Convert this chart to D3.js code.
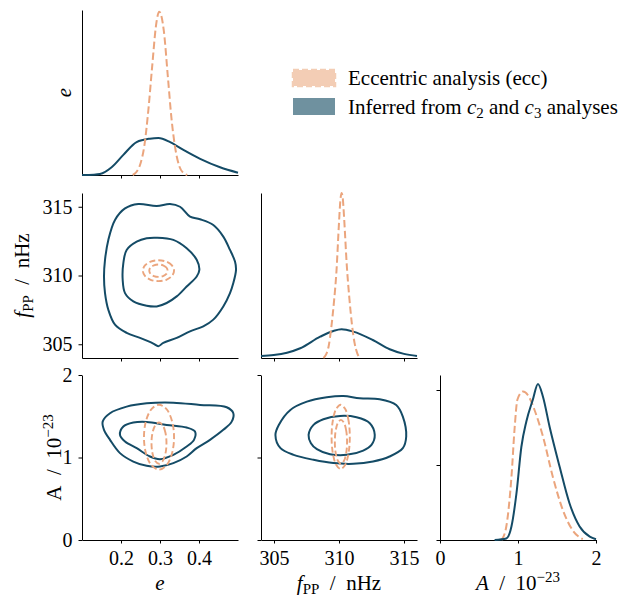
<!DOCTYPE html>
<html>
<head>
<meta charset="utf-8">
<script src="https://cdn.jsdelivr.net/npm/d3@7"></script>
<style>
body { margin: 0; background: #fff; }
svg { font-family: "Liberation Serif", "DejaVu Serif", serif; }
.axis path, .axis line { stroke: #000; stroke-width: 1; }
.axis text { font-size: 20px; fill: #000; font-family: "Liberation Serif", serif; }
.lbl { font-size: 21px; fill: #000; }
</style>
</head>
<body>
<svg id="chart" width="630" height="600"></svg>
<script>
// ranges and ticks
var eRange = [0.1, 0.5];
var fRange = [304, 316];
var aRange = [0, 2];
var eTicks = [0.2, 0.3, 0.4];
var fTicks = [305, 310, 315];
var aTicks = [0, 1, 2];
var aDensTicks = [0, 1, 2];

// 1-d marginals: [value, density]
var eMargEcc = [[0.23,0],[0.24,0.02],[0.25,0.07],[0.26,0.18],[0.27,0.39],[0.28,0.66],[0.29,0.91],[0.298,0.99],
    [0.31,0.87],[0.32,0.6],[0.33,0.33],[0.34,0.15],[0.35,0.05],[0.36,0.012],[0.37,0]];
var eMargInf = [[0.10,0],[0.13,0.002],[0.146,0.006],[0.176,0.047],[0.206,0.122],[0.24,0.199],[0.274,0.22],
    [0.296,0.224],[0.326,0.199],[0.36,0.152],[0.403,0.098],[0.454,0.047],[0.50,0.014]];
var fMargEcc = [[308.8,0],[309.0,0.02],[309.2,0.07],[309.4,0.18],[309.6,0.33],[309.8,0.52],[310.0,0.82],[310.1,0.95],
    [310.2,1.0],[310.3,0.96],[310.4,0.84],[310.6,0.56],[310.8,0.36],[311.0,0.2],[311.2,0.09],[311.4,0.03],[311.6,0]];
var fMargInf = [[304.0,0.012],[304.98,0.018],[306.0,0.032],[307.02,0.059],[308.55,0.129],[309.57,0.164],[310.2,0.174],
    [311.1,0.16],[312.6,0.109],[313.9,0.053],[315.0,0.025],[316.0,0.012]];
var aMargEcc = [[0.79,0],[0.85,0.18],[0.916,0.84],[0.958,1.51],[0.992,1.87],[1.064,1.98],[1.128,1.93],[1.213,1.73],
    [1.32,1.38],[1.447,0.84],[1.575,0.40],[1.70,0.13],[1.83,0.01]];
var aMargInf = [[0.70,0],[0.85,0.02],[0.916,0.18],[0.98,0.62],[1.043,1.24],[1.107,1.58],[1.19,1.87],[1.256,2.08],
    [1.32,1.91],[1.405,1.51],[1.533,0.98],[1.66,0.49],[1.79,0.18],[1.92,0.044],[2.0,0.01]];

// 2-d contours: e vs f
var efInfOuter = [[0.2444,315.2],[0.2915,315.05],[0.3256,315.2],[0.3513,315.0],[0.377,314.28],[0.4026,314.09],
    [0.4367,313.67],[0.4623,312.83],[0.4795,311.86],[0.4923,311.01],[0.4949,310.41],[0.488,309.45],[0.4795,308.72],
    [0.4623,307.75],[0.4367,306.79],[0.411,306.3],[0.377,305.94],[0.3428,305.46],[0.3085,305.1],[0.2957,304.86],
    [0.2829,305.05],[0.2487,305.46],[0.2145,305.83],[0.1846,306.43],[0.1675,307.51],[0.159,308.72],[0.1564,309.93],
    [0.159,311.14],[0.1675,312.59],[0.1846,314.04],[0.2103,314.88]];
var efInfInner = [[0.2915,312.75],[0.3342,312.59],[0.3684,311.98],[0.3941,311.14],[0.4009,310.41],[0.3941,309.93],
    [0.3684,309.2],[0.3428,308.48],[0.3171,308.0],[0.2915,307.75],[0.2658,307.8],[0.2316,308.12],[0.2103,308.72],
    [0.2043,309.69],[0.206,310.9],[0.2145,311.86],[0.2402,312.46],[0.2658,312.71]];
var efEccOuter = [[0.336,310.35],[0.3306,310.73],[0.316,311.01],[0.296,311.11],[0.276,311.01],[0.2614,310.73],
    [0.256,310.35],[0.2614,309.97],[0.276,309.69],[0.296,309.59],[0.316,309.69],[0.3306,309.97]];
var efEccInner = [[0.3195,310.35],[0.3164,310.58],[0.3078,310.74],[0.296,310.8],[0.2843,310.74],[0.2756,310.58],
    [0.2725,310.35],[0.2756,310.12],[0.2843,309.96],[0.296,309.9],[0.3078,309.96],[0.3164,310.12]];

// e vs A
var eaInfOuter = [[0.153,1.435],[0.1718,1.537],[0.2145,1.617],[0.2658,1.657],[0.3342,1.665],[0.4026,1.637],
    [0.471,1.609],[0.488,1.537],[0.4838,1.435],[0.4623,1.335],[0.4282,1.214],[0.3941,1.113],[0.3684,1.012],
    [0.3342,0.932],[0.3,0.891],[0.2658,0.899],[0.2316,0.951],[0.1974,1.053],[0.1718,1.214],[0.1564,1.335]];
var eaInfInner = [[0.1974,1.274],[0.206,1.375],[0.2316,1.423],[0.2658,1.431],[0.3171,1.395],[0.3684,1.363],
    [0.3897,1.314],[0.3872,1.214],[0.3684,1.133],[0.3342,1.032],[0.3,0.98],[0.2744,1.012],[0.2402,1.113],[0.2103,1.193]];
var eaEccOuter = [[0.336,1.246],[0.3307,1.443],[0.3167,1.586],[0.2974,1.639],[0.2782,1.586],[0.2641,1.443],
    [0.2589,1.246],[0.2641,1.049],[0.2782,0.906],[0.2974,0.853],[0.3167,0.906],[0.3307,1.049]];
var eaEccInner = [[0.3166,1.174],[0.314,1.299],[0.307,1.39],[0.2974,1.424],[0.2878,1.39],[0.2808,1.299],
    [0.2782,1.174],[0.2808,1.049],[0.2878,0.958],[0.2974,0.924],[0.307,0.958],[0.314,1.049]];

// f vs A
var faInfOuter = [[305.11,1.274],[305.37,1.395],[306.26,1.577],[307.53,1.677],[309.06,1.73],[310.33,1.746],
    [311.6,1.718],[313.13,1.706],[314.4,1.637],[314.91,1.496],[315.17,1.254],[314.91,1.113],[313.89,1.012],
    [312.62,0.951],[311.09,0.923],[309.57,0.932],[308.04,0.972],[306.51,1.032],[305.5,1.113]];
var faInfInner = [[307.66,1.274],[308.04,1.395],[308.8,1.464],[310.08,1.504],[311.35,1.488],[312.37,1.416],
    [312.75,1.274],[312.5,1.153],[311.86,1.084],[310.59,1.032],[309.31,1.04],[308.3,1.101],[307.84,1.174]];
var faEccOuter = [[310.83,1.25],[310.736,1.445],[310.48,1.587],[310.13,1.639],[309.78,1.587],[309.524,1.445],
    [309.43,1.25],[309.524,1.055],[309.78,0.913],[310.13,0.861],[310.48,0.913],[310.736,1.055]];
var faEccInner = [[310.62,1.19],[310.557,1.323],[310.385,1.42],[310.15,1.456],[309.915,1.42],[309.743,1.323],
    [309.68,1.19],[309.743,1.057],[309.915,0.96],[310.15,0.924],[310.385,0.96],[310.557,1.057]];

var legendItems = ['Eccentric analysis (ecc)', 'Inferred from c2 and c3 analyses'];

var blue = '#144b66';
var orange = '#eba57d';

var svg = d3.select('#chart');
var colX = [82, 261, 440];
var rowY = [10, 193, 375];
var W = 156, H = 165;

var xE = d3.scaleLinear().domain(eRange).range([colX[0], colX[0] + W]);
var xF = d3.scaleLinear().domain(fRange).range([colX[1], colX[1] + W]);
var xA = d3.scaleLinear().domain(aRange).range([colX[2], colX[2] + W]);
var yF = d3.scaleLinear().domain(fRange).range([rowY[1] + H, rowY[1]]);
var yA = d3.scaleLinear().domain(aRange).range([rowY[2] + H, rowY[2]]);
var yEd = d3.scaleLinear().domain([0, 1]).range([rowY[0] + H, rowY[0]]);
var yFd = d3.scaleLinear().domain([0, 1]).range([rowY[1] + H, rowY[1]]);
var yAd = d3.scaleLinear().domain([0, 2.2]).range([rowY[2] + H, rowY[2]]);

function bottomAxis(scale, ticks, y, labels) {
    var g = svg.append('g').attr('class', 'axis')
        .attr('transform', 'translate(0,' + y + ')')
        .call(d3.axisBottom(scale).tickValues(ticks).tickSize(3.5).tickSizeOuter(0).tickPadding(7)
            .tickFormat(d3.format('')));
    if (!labels) g.selectAll('.tick text').remove();
    return g;
}

function leftAxis(scale, ticks, x, labels) {
    var g = svg.append('g').attr('class', 'axis')
        .attr('transform', 'translate(' + x + ',0)')
        .call(d3.axisLeft(scale).tickValues(ticks).tickSize(3.5).tickSizeOuter(0).tickPadding(6)
            .tickFormat(d3.format('')));
    if (!labels) g.selectAll('.tick text').remove();
    return g;
}

// axes, panel by panel
bottomAxis(xE, eTicks, rowY[0] + H, false);
leftAxis(yEd, [], colX[0], false);
bottomAxis(xE, eTicks, rowY[1] + H, false);
leftAxis(yF, fTicks, colX[0], true);
bottomAxis(xF, fTicks, rowY[1] + H, false);
leftAxis(yFd, [], colX[1], false);
bottomAxis(xE, eTicks, rowY[2] + H, true);
leftAxis(yA, aTicks, colX[0], true);
bottomAxis(xF, fTicks, rowY[2] + H, true);
leftAxis(yA, aTicks, colX[1], false);
bottomAxis(xA, aTicks, rowY[2] + H, true);
leftAxis(yAd, aDensTicks, colX[2], false);

function marginal(data, xs, ys, color, dashed) {
    var line = d3.line().x(function (d) { return xs(d[0]); }).y(function (d) { return ys(d[1]); })
        .curve(d3.curveMonotoneX);
    svg.append('path').datum(data).attr('d', line)
        .attr('fill', 'none').attr('stroke', color).attr('stroke-width', 2)
        .attr('stroke-dasharray', dashed ? '7.4,3.4' : null);
}

function contour(data, xs, ys, color, dashed) {
    var line = d3.line().x(function (d) { return xs(d[0]); }).y(function (d) { return ys(d[1]); })
        .curve(d3.curveCatmullRomClosed.alpha(0.5));
    svg.append('path').datum(data).attr('d', line)
        .attr('fill', 'none').attr('stroke', color).attr('stroke-width', dashed ? 1.9 : 2)
        .attr('stroke-dasharray', dashed ? '6,3' : null);
}

marginal(eMargInf, xE, yEd, blue, false);
marginal(eMargEcc, xE, yEd, orange, true);
marginal(fMargInf, xF, yFd, blue, false);
marginal(fMargEcc, xF, yFd, orange, true);
marginal(aMargEcc, xA, yAd, orange, true);
marginal(aMargInf, xA, yAd, blue, false);

contour(efInfOuter, xE, yF, blue, false);
contour(efInfInner, xE, yF, blue, false);
contour(efEccOuter, xE, yF, orange, true);
contour(efEccInner, xE, yF, orange, true);

contour(eaInfOuter, xE, yA, blue, false);
contour(eaInfInner, xE, yA, blue, false);
contour(eaEccOuter, xE, yA, orange, true);
contour(eaEccInner, xE, yA, orange, true);

contour(faInfOuter, xF, yA, blue, false);
contour(faInfInner, xF, yA, blue, false);
contour(faEccOuter, xF, yA, orange, true);
contour(faEccInner, xF, yA, orange, true);

// axis labels
function fLabel(t) {
    t.append('tspan').attr('font-style', 'italic').text('f');
    t.append('tspan').attr('font-size', 15).attr('dy', 4).text('PP');
    t.append('tspan').attr('dy', -4).text('\u2002/\u2002nHz');
}
function aLabel(t, italic) {
    t.append('tspan').attr('font-style', italic ? 'italic' : null).text('A');
    t.append('tspan').text('\u2002/\u200210');
    t.append('tspan').attr('font-size', 15).attr('dy', -8).text('\u221223');
}

svg.append('text').attr('class', 'lbl').attr('x', xE(0.3)).attr('y', 590)
    .attr('text-anchor', 'middle').attr('font-style', 'italic').text('e');
fLabel(svg.append('text').attr('class', 'lbl').attr('x', xF(310)).attr('y', 590).attr('text-anchor', 'middle'));
aLabel(svg.append('text').attr('class', 'lbl').attr('x', xA(1)).attr('y', 590).attr('text-anchor', 'middle'), true);

svg.append('text').attr('class', 'lbl').attr('text-anchor', 'middle').attr('font-style', 'italic')
    .attr('transform', 'translate(71,' + (rowY[0] + H / 2) + ') rotate(-90)').text('e');
fLabel(svg.append('text').attr('class', 'lbl').attr('text-anchor', 'middle')
    .attr('transform', 'translate(29,' + yF(310) + ') rotate(-90)'));
aLabel(svg.append('text').attr('class', 'lbl').attr('text-anchor', 'middle')
    .attr('transform', 'translate(61,' + yA(1) + ') rotate(-90)'), false);

// legend
var lg = svg.append('g').attr('transform', 'translate(293,70)');
lg.append('rect').attr('x', 0).attr('y', 0).attr('width', 42).attr('height', 16)
    .attr('fill', '#f3cdb5').attr('stroke', '#f3cdb5').attr('stroke-width', 2.5)
    .attr('stroke-dasharray', '6,3');
lg.append('rect').attr('x', 0).attr('y', 28).attr('width', 42).attr('height', 17)
    .attr('fill', '#6f919f');
lg.append('text').attr('class', 'lbl').attr('x', 55).attr('y', 15).text(legendItems[0]);
var t2 = lg.append('text').attr('class', 'lbl').attr('x', 55).attr('y', 44);
t2.append('tspan').text('Inferred from ');
t2.append('tspan').attr('font-style', 'italic').text('c');
t2.append('tspan').attr('font-size', 15).attr('dy', 4).text('2');
t2.append('tspan').attr('dy', -4).text(' and ');
t2.append('tspan').attr('font-style', 'italic').text('c');
t2.append('tspan').attr('font-size', 15).attr('dy', 4).text('3');
t2.append('tspan').attr('dy', -4).text(' analyses');
</script>
</body>
</html>
